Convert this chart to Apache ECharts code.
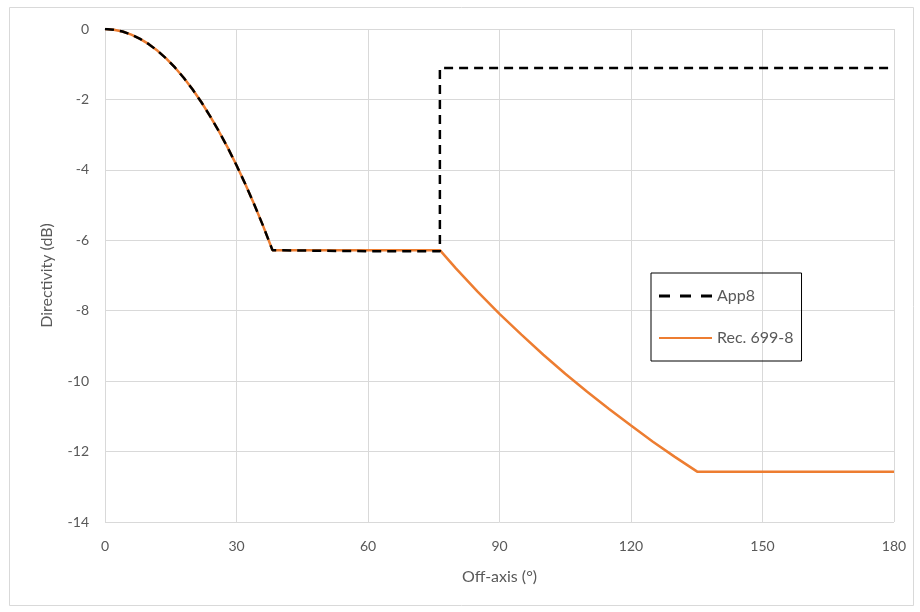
<!DOCTYPE html>
<html>
<head>
<meta charset="utf-8">
<script src="https://cdn.jsdelivr.net/npm/echarts@6/dist/echarts.min.js"></script>
<style>
html,body{margin:0;padding:0;background:#fff;}
#chart{width:920px;height:612px;}
</style>
</head>
<body>
<div id="chart"></div>
<script>
// Off-axis angle (degrees) and directivity (dB)
var recAngles = [0, 2, 4, 6, 8, 10, 12, 14, 16, 18, 20, 22, 24, 26, 28, 30, 32, 34, 36, 38.2, 50, 60, 70, 76.4, 80, 85, 90, 95, 100, 105, 110, 115, 120, 125, 130, 135.1, 150, 165, 180];
var recValues = [0, -0.02, -0.07, -0.16, -0.28, -0.43, -0.62, -0.84, -1.10, -1.39, -1.72, -2.08, -2.48, -2.91, -3.37, -3.87, -4.40, -4.97, -5.57, -6.28, -6.28, -6.28, -6.28, -6.28, -6.79, -7.46, -8.09, -8.68, -9.25, -9.79, -10.30, -10.79, -11.26, -11.72, -12.15, -12.57, -12.57, -12.57, -12.57];

var app8Angles = [0, 2, 4, 6, 8, 10, 12, 14, 16, 18, 20, 22, 24, 26, 28, 30, 32, 34, 36, 38.2, 50, 60, 70, 76.4, 76.4, 100, 130, 160, 180];
var app8Values = [0, -0.02, -0.07, -0.16, -0.28, -0.43, -0.62, -0.84, -1.10, -1.39, -1.72, -2.08, -2.48, -2.91, -3.37, -3.87, -4.40, -4.97, -5.57, -6.28, -6.30, -6.31, -6.31, -6.31, -1.11, -1.11, -1.11, -1.11, -1.11];

var seriesNames = ['App8', 'Rec. 699-8'];
var xTitle = 'Off-axis (°)';
var yTitle = 'Directivity (dB)';

function pairs(xs, ys) { return xs.map(function (x, i) { return [x, ys[i]]; }); }

var font = 'Lato, "Open Sans", sans-serif';
var chart = echarts.init(document.getElementById('chart'));
chart.setOption({
  animation: false,
  backgroundColor: '#fff',
  graphic: [{
    type: 'rect', left: 7, top: 5, shape: { width: 904, height: 598 },
    style: { fill: 'none', stroke: '#d9d9d9', lineWidth: 1 }, z: -1
  }],
  grid: { left: 105, right: 26, top: 29, bottom: 90 },
  legend: {
    orient: 'vertical', left: 651, top: 273,
    padding: [15, 8, 15, 8],
    itemWidth: 53, itemHeight: 14, itemGap: 26,
    borderColor: '#000', borderWidth: 1,
    textStyle: { color: '#595959', fontSize: 16, fontFamily: font },
    data: [
      { name: seriesNames[0], icon: 'path://M0,6 L11,6 L11,9 L0,9 Z M21,6 L32,6 L32,9 L21,9 Z M42,6 L53,6 L53,9 L42,9 Z', itemStyle: { color: '#000' } },
      { name: seriesNames[1], icon: 'path://M0,6.5 L53,6.5 L53,8.5 L0,8.5 Z', itemStyle: { color: '#ED7D31' } }
    ]
  },
  xAxis: {
    type: 'value', min: 0, max: 180, interval: 30,
    name: xTitle, nameLocation: 'middle', nameGap: 47,
    nameTextStyle: { color: '#595959', fontSize: 16, fontFamily: font },
    axisLine: { show: true, lineStyle: { color: '#d9d9d9', width: 1 } },
    axisTick: { show: false },
    axisLabel: { color: '#595959', fontSize: 14, fontFamily: font, margin: 17 },
    splitLine: { show: true, lineStyle: { color: '#d9d9d9', width: 1 } }
  },
  yAxis: {
    type: 'value', min: -14, max: 0, interval: 2,
    name: yTitle, nameLocation: 'middle', nameGap: 50, nameRotate: 90,
    nameTextStyle: { color: '#595959', fontSize: 16, fontFamily: font },
    axisLine: { show: false },
    axisTick: { show: false },
    axisLabel: { color: '#595959', fontSize: 14, fontFamily: font, margin: 16 },
    splitLine: { show: true, lineStyle: { color: '#d9d9d9', width: 1 } }
  },
  series: [
    {
      name: seriesNames[1], type: 'line', data: pairs(recAngles, recValues),
      showSymbol: false, symbol: 'none', z: 2,
      lineStyle: { color: '#ED7D31', width: 2.5 }, itemStyle: { color: '#ED7D31' }
    },
    {
      name: seriesNames[0], type: 'line', data: pairs(app8Angles, app8Values),
      showSymbol: false, symbol: 'none', z: 3,
      lineStyle: { color: '#000', width: 2.5, type: [9, 6] }, itemStyle: { color: '#000' }
    }
  ]
});
</script>
</body>
</html>
